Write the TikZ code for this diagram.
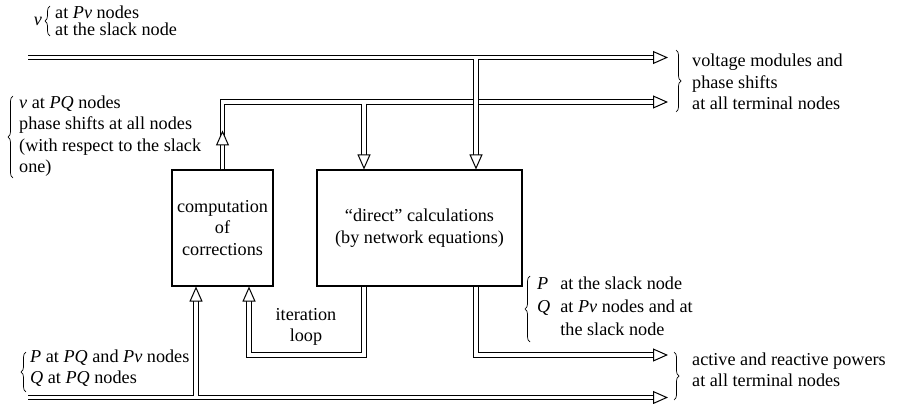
\documentclass[tikz,border=0pt]{standalone}
\usepackage{fontspec}
\setmainfont{Liberation Serif}
\usetikzlibrary{arrows.meta,decorations.pathreplacing}

\begin{document}
\begin{tikzpicture}[x=1pt, y=-1pt,
		font=\fontsize{18.2}{21.5}\selectfont,
		pipe/.style={line width=1pt, double, double distance=3.4pt},
		hollow/.style={-{Triangle[length=15pt, width=13pt, line width=1pt, fill=white]}},
		box/.style={draw, line width=1.1pt, inner sep=0pt, align=center},
		lbl/.style={anchor=west, align=left, inner sep=0pt},
		br/.style={decorate, decoration={brace, amplitude=5pt}, line width=0.7pt}]
		\useasboundingbox (0,0) rectangle (897,404);

		\node[box, minimum width=101pt, minimum height=116pt] (comp) at (222.5,228) {computation\\of\\corrections};
		\node[box, minimum width=205pt, minimum height=116pt] (direct) at (419.5,228) {“direct” calculations\\(by network equations)};

		\coordinate (in1) at (28,57.5);
		\coordinate (out1) at (668,57.5);
		\coordinate (out2) at (668,102);
		\coordinate (out3) at (668,355);
		\coordinate (in2) at (28,397.5);
		\coordinate (out4) at (668,397.5);
		\coordinate (j1) at (476,59.2); % branch off the top line
		\coordinate (j2) at (364,103.7); % branch off the corrections
		\coordinate (j4) at ([xshift=-26.5pt]comp.south |- 0,395.8);
		\coordinate (loopin) at ([xshift=26.5pt]comp.south);

		% corrections out
		\draw[pipe, hollow] (comp.north) |- (out2);
		\draw[pipe, hollow] (comp.north) -- ++(0,-39);
		\draw[pipe, hollow] (j2) -- (j2 |- direct.north);
		% given v
		\draw[pipe, hollow] (in1) -- (out1);
		\draw[pipe, hollow] (j1) -- (j1 |- direct.north);
		% given P, Q
		\draw[pipe, hollow] (in2) -- (out4);
		\draw[pipe, hollow] (j4) -- (j4 |- comp.south);
		% computed powers and iteration loop
		\draw[pipe, hollow] (direct.south -| j1) |- (out3);
		\draw[pipe, hollow] (direct.south -| j2) -- (j2 |- out3) -| (loopin);

		\node (iter) at (306,327) [align=center] {iteration\\loop};

		\node (vsym) at (38,21) {\textit{v}};
		\draw[br] (50,36) -- (50,6);
		\node[lbl, font=\fontsize{18.2}{17}\selectfont] (vgiven) at (55,21) {at \textit{Pv} nodes\\at the slack node};

		\draw[br] (13,178) -- (13,96);
		\node[lbl] (vcalc) at (19,136) {\textit{v} at \textit{PQ} nodes\\phase shifts at all nodes\\(with respect to the slack\\one)};

		\draw[br] (676,50) -- (676,112);
		\node[lbl] (vout) at (692,82) {voltage modules and\\phase shifts\\at all terminal nodes};

		\draw[br] (530,342) -- (530,276);
		\node[lbl, font=\fontsize{18.2}{23}\selectfont] (pqslack) at (537,308) {\begin{tabular}{@{}l@{\hspace{0.55em}}l@{}}\textit{P} & at the slack node\\\textit{Q} & at \textit{Pv} nodes and at\\ & the slack node\end{tabular}};

		\draw[br] (674,352) -- (674,400);
		\node[lbl] (pqout) at (692,370) {active and reactive powers\\at all terminal nodes};

		\draw[br] (26,392) -- (26,352);
		\node[lbl] (pqgiven) at (30,368) {\textit{P} at \textit{PQ} and \textit{Pv} nodes\\\textit{Q} at \textit{PQ} nodes};
\end{tikzpicture}
\end{document}
